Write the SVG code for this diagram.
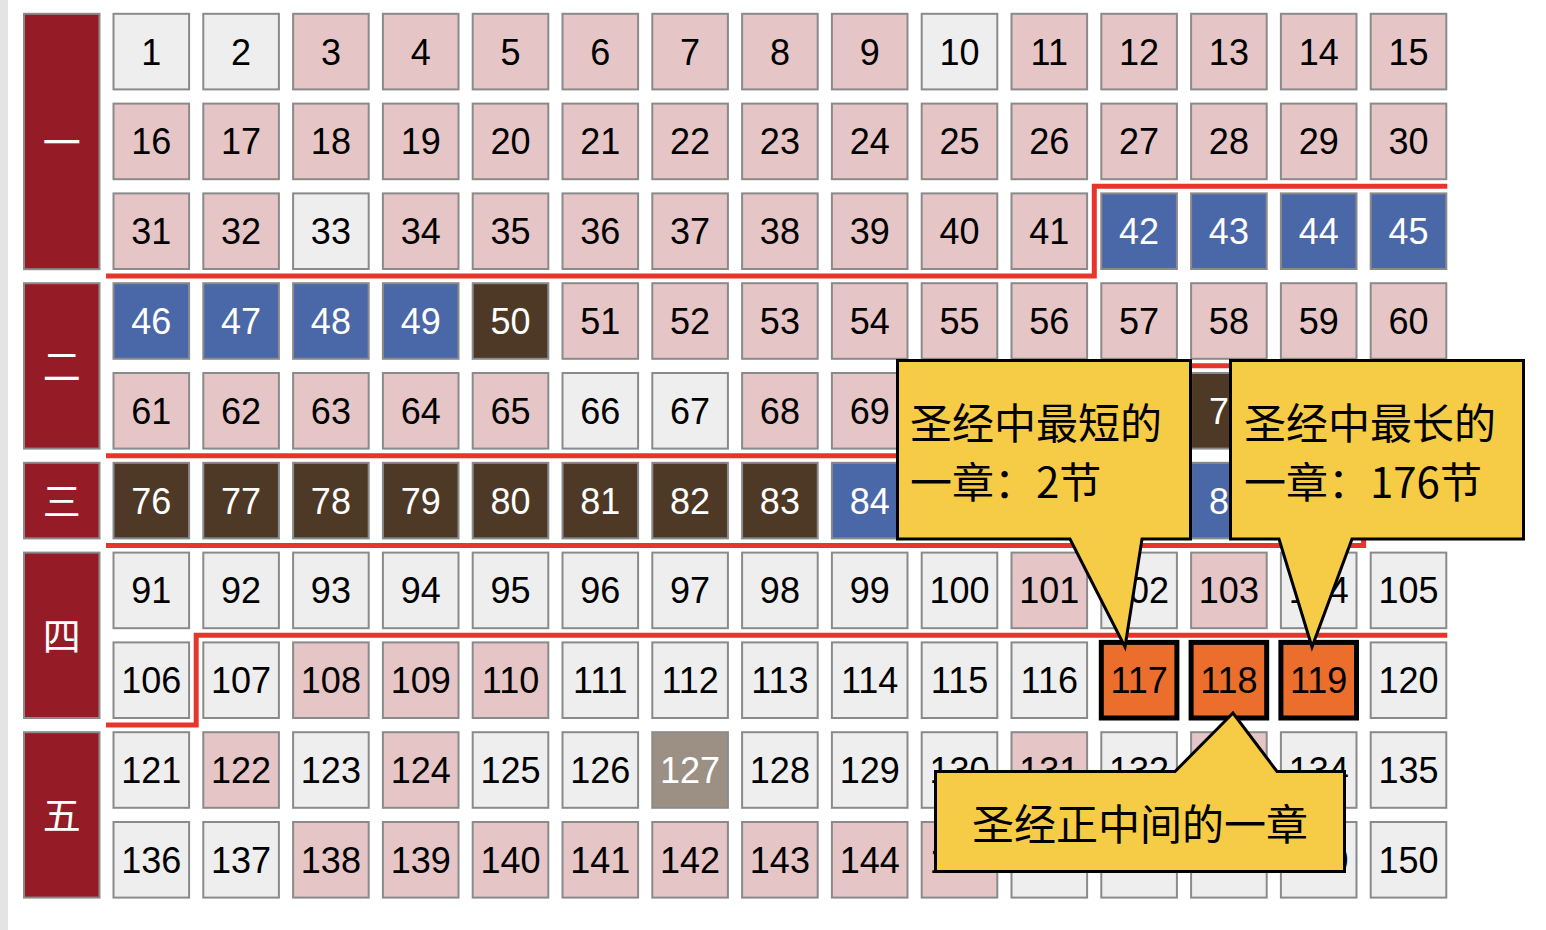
<svg xmlns="http://www.w3.org/2000/svg" width="1546" height="930" viewBox="0 0 1546 930">
<style>
.cell rect{stroke:#8a8a8a;stroke-width:2}
.cell text{font-family:"Liberation Sans",Arial,sans-serif;font-size:36px;text-anchor:middle}
.cell text.part{text-anchor:start}
.w rect{fill:#eeeeee}.p rect{fill:#e5c5c5}.b rect{fill:#4a68a7}.br rect{fill:#4d3926}.s rect{fill:#9c9085}
.o rect{fill:#ec6e2c;stroke:#000;stroke-width:5}
.w text,.p text,.o text{fill:#000}.b text,.br text,.s text{fill:#fff}
.lab rect{fill:#951c26;stroke:#8a8a8a;stroke-width:2}
.lab text{fill:#fff;font-family:"Noto Sans CJK SC","Noto Sans",sans-serif;font-size:38px;text-anchor:middle}
.sep{fill:none;stroke:#e8352b;stroke-width:5;stroke-linejoin:miter}
.call path{fill:#f6cb45;stroke:#000;stroke-width:3;stroke-linejoin:miter}
.call text{font-family:"Noto Sans CJK SC","Noto Sans",sans-serif;font-size:42px;fill:#000}
</style>
<rect x="0" y="0" width="8" height="930" fill="#e4e4e4"/>
<g id="labels">
<g id="book1" class="lab"><rect x="24" y="13.8" width="75.5" height="255.4"/><text x="61.75" y="156">一</text></g>
<g id="book2" class="lab"><rect x="24" y="283.2" width="75.5" height="165.4"/><text x="61.75" y="380.3">二</text></g>
<g id="book3" class="lab"><rect x="24" y="462.8" width="75.5" height="75.6"/><text x="61.75" y="515">三</text></g>
<g id="book4" class="lab"><rect x="24" y="552.6" width="75.5" height="165.4"/><text x="61.75" y="649.7">四</text></g>
<g id="book5" class="lab"><rect x="24" y="732.2" width="75.5" height="165.4"/><text x="61.75" y="829.3">五</text></g>
</g>
<g id="cells">
<g id="c1" class="cell w" transform="translate(112.5,12.8)"><rect x="1" y="1" width="75.6" height="75.6"/><text x="38.8" y="51.8">1</text></g>
<g id="c2" class="cell w" transform="translate(202.3,12.8)"><rect x="1" y="1" width="75.6" height="75.6"/><text x="38.8" y="51.8">2</text></g>
<g id="c3" class="cell p" transform="translate(292.1,12.8)"><rect x="1" y="1" width="75.6" height="75.6"/><text x="38.8" y="51.8">3</text></g>
<g id="c4" class="cell p" transform="translate(381.9,12.8)"><rect x="1" y="1" width="75.6" height="75.6"/><text x="38.8" y="51.8">4</text></g>
<g id="c5" class="cell p" transform="translate(471.7,12.8)"><rect x="1" y="1" width="75.6" height="75.6"/><text x="38.8" y="51.8">5</text></g>
<g id="c6" class="cell p" transform="translate(561.5,12.8)"><rect x="1" y="1" width="75.6" height="75.6"/><text x="38.8" y="51.8">6</text></g>
<g id="c7" class="cell p" transform="translate(651.3,12.8)"><rect x="1" y="1" width="75.6" height="75.6"/><text x="38.8" y="51.8">7</text></g>
<g id="c8" class="cell p" transform="translate(741.1,12.8)"><rect x="1" y="1" width="75.6" height="75.6"/><text x="38.8" y="51.8">8</text></g>
<g id="c9" class="cell p" transform="translate(830.9,12.8)"><rect x="1" y="1" width="75.6" height="75.6"/><text x="38.8" y="51.8">9</text></g>
<g id="c10" class="cell w" transform="translate(920.7,12.8)"><rect x="1" y="1" width="75.6" height="75.6"/><text x="38.8" y="51.8">10</text></g>
<g id="c11" class="cell p" transform="translate(1010.5,12.8)"><rect x="1" y="1" width="75.6" height="75.6"/><text x="38.8" y="51.8">11</text></g>
<g id="c12" class="cell p" transform="translate(1100.3,12.8)"><rect x="1" y="1" width="75.6" height="75.6"/><text x="38.8" y="51.8">12</text></g>
<g id="c13" class="cell p" transform="translate(1190.1,12.8)"><rect x="1" y="1" width="75.6" height="75.6"/><text x="38.8" y="51.8">13</text></g>
<g id="c14" class="cell p" transform="translate(1279.9,12.8)"><rect x="1" y="1" width="75.6" height="75.6"/><text x="38.8" y="51.8">14</text></g>
<g id="c15" class="cell p" transform="translate(1369.7,12.8)"><rect x="1" y="1" width="75.6" height="75.6"/><text x="38.8" y="51.8">15</text></g>
<g id="c16" class="cell p" transform="translate(112.5,102.6)"><rect x="1" y="1" width="75.6" height="75.6"/><text x="38.8" y="51.8">16</text></g>
<g id="c17" class="cell p" transform="translate(202.3,102.6)"><rect x="1" y="1" width="75.6" height="75.6"/><text x="38.8" y="51.8">17</text></g>
<g id="c18" class="cell p" transform="translate(292.1,102.6)"><rect x="1" y="1" width="75.6" height="75.6"/><text x="38.8" y="51.8">18</text></g>
<g id="c19" class="cell p" transform="translate(381.9,102.6)"><rect x="1" y="1" width="75.6" height="75.6"/><text x="38.8" y="51.8">19</text></g>
<g id="c20" class="cell p" transform="translate(471.7,102.6)"><rect x="1" y="1" width="75.6" height="75.6"/><text x="38.8" y="51.8">20</text></g>
<g id="c21" class="cell p" transform="translate(561.5,102.6)"><rect x="1" y="1" width="75.6" height="75.6"/><text x="38.8" y="51.8">21</text></g>
<g id="c22" class="cell p" transform="translate(651.3,102.6)"><rect x="1" y="1" width="75.6" height="75.6"/><text x="38.8" y="51.8">22</text></g>
<g id="c23" class="cell p" transform="translate(741.1,102.6)"><rect x="1" y="1" width="75.6" height="75.6"/><text x="38.8" y="51.8">23</text></g>
<g id="c24" class="cell p" transform="translate(830.9,102.6)"><rect x="1" y="1" width="75.6" height="75.6"/><text x="38.8" y="51.8">24</text></g>
<g id="c25" class="cell p" transform="translate(920.7,102.6)"><rect x="1" y="1" width="75.6" height="75.6"/><text x="38.8" y="51.8">25</text></g>
<g id="c26" class="cell p" transform="translate(1010.5,102.6)"><rect x="1" y="1" width="75.6" height="75.6"/><text x="38.8" y="51.8">26</text></g>
<g id="c27" class="cell p" transform="translate(1100.3,102.6)"><rect x="1" y="1" width="75.6" height="75.6"/><text x="38.8" y="51.8">27</text></g>
<g id="c28" class="cell p" transform="translate(1190.1,102.6)"><rect x="1" y="1" width="75.6" height="75.6"/><text x="38.8" y="51.8">28</text></g>
<g id="c29" class="cell p" transform="translate(1279.9,102.6)"><rect x="1" y="1" width="75.6" height="75.6"/><text x="38.8" y="51.8">29</text></g>
<g id="c30" class="cell p" transform="translate(1369.7,102.6)"><rect x="1" y="1" width="75.6" height="75.6"/><text x="38.8" y="51.8">30</text></g>
<g id="c31" class="cell p" transform="translate(112.5,192.4)"><rect x="1" y="1" width="75.6" height="75.6"/><text x="38.8" y="51.8">31</text></g>
<g id="c32" class="cell p" transform="translate(202.3,192.4)"><rect x="1" y="1" width="75.6" height="75.6"/><text x="38.8" y="51.8">32</text></g>
<g id="c33" class="cell w" transform="translate(292.1,192.4)"><rect x="1" y="1" width="75.6" height="75.6"/><text x="38.8" y="51.8">33</text></g>
<g id="c34" class="cell p" transform="translate(381.9,192.4)"><rect x="1" y="1" width="75.6" height="75.6"/><text x="38.8" y="51.8">34</text></g>
<g id="c35" class="cell p" transform="translate(471.7,192.4)"><rect x="1" y="1" width="75.6" height="75.6"/><text x="38.8" y="51.8">35</text></g>
<g id="c36" class="cell p" transform="translate(561.5,192.4)"><rect x="1" y="1" width="75.6" height="75.6"/><text x="38.8" y="51.8">36</text></g>
<g id="c37" class="cell p" transform="translate(651.3,192.4)"><rect x="1" y="1" width="75.6" height="75.6"/><text x="38.8" y="51.8">37</text></g>
<g id="c38" class="cell p" transform="translate(741.1,192.4)"><rect x="1" y="1" width="75.6" height="75.6"/><text x="38.8" y="51.8">38</text></g>
<g id="c39" class="cell p" transform="translate(830.9,192.4)"><rect x="1" y="1" width="75.6" height="75.6"/><text x="38.8" y="51.8">39</text></g>
<g id="c40" class="cell p" transform="translate(920.7,192.4)"><rect x="1" y="1" width="75.6" height="75.6"/><text x="38.8" y="51.8">40</text></g>
<g id="c41" class="cell p" transform="translate(1010.5,192.4)"><rect x="1" y="1" width="75.6" height="75.6"/><text x="38.8" y="51.8">41</text></g>
<g id="c42" class="cell b" transform="translate(1100.3,192.4)"><rect x="1" y="1" width="75.6" height="75.6"/><text x="38.8" y="51.8">42</text></g>
<g id="c43" class="cell b" transform="translate(1190.1,192.4)"><rect x="1" y="1" width="75.6" height="75.6"/><text x="38.8" y="51.8">43</text></g>
<g id="c44" class="cell b" transform="translate(1279.9,192.4)"><rect x="1" y="1" width="75.6" height="75.6"/><text x="38.8" y="51.8">44</text></g>
<g id="c45" class="cell b" transform="translate(1369.7,192.4)"><rect x="1" y="1" width="75.6" height="75.6"/><text x="38.8" y="51.8">45</text></g>
<g id="c46" class="cell b" transform="translate(112.5,282.2)"><rect x="1" y="1" width="75.6" height="75.6"/><text x="38.8" y="51.8">46</text></g>
<g id="c47" class="cell b" transform="translate(202.3,282.2)"><rect x="1" y="1" width="75.6" height="75.6"/><text x="38.8" y="51.8">47</text></g>
<g id="c48" class="cell b" transform="translate(292.1,282.2)"><rect x="1" y="1" width="75.6" height="75.6"/><text x="38.8" y="51.8">48</text></g>
<g id="c49" class="cell b" transform="translate(381.9,282.2)"><rect x="1" y="1" width="75.6" height="75.6"/><text x="38.8" y="51.8">49</text></g>
<g id="c50" class="cell br" transform="translate(471.7,282.2)"><rect x="1" y="1" width="75.6" height="75.6"/><text x="38.8" y="51.8">50</text></g>
<g id="c51" class="cell p" transform="translate(561.5,282.2)"><rect x="1" y="1" width="75.6" height="75.6"/><text x="38.8" y="51.8">51</text></g>
<g id="c52" class="cell p" transform="translate(651.3,282.2)"><rect x="1" y="1" width="75.6" height="75.6"/><text x="38.8" y="51.8">52</text></g>
<g id="c53" class="cell p" transform="translate(741.1,282.2)"><rect x="1" y="1" width="75.6" height="75.6"/><text x="38.8" y="51.8">53</text></g>
<g id="c54" class="cell p" transform="translate(830.9,282.2)"><rect x="1" y="1" width="75.6" height="75.6"/><text x="38.8" y="51.8">54</text></g>
<g id="c55" class="cell p" transform="translate(920.7,282.2)"><rect x="1" y="1" width="75.6" height="75.6"/><text x="38.8" y="51.8">55</text></g>
<g id="c56" class="cell p" transform="translate(1010.5,282.2)"><rect x="1" y="1" width="75.6" height="75.6"/><text x="38.8" y="51.8">56</text></g>
<g id="c57" class="cell p" transform="translate(1100.3,282.2)"><rect x="1" y="1" width="75.6" height="75.6"/><text x="38.8" y="51.8">57</text></g>
<g id="c58" class="cell p" transform="translate(1190.1,282.2)"><rect x="1" y="1" width="75.6" height="75.6"/><text x="38.8" y="51.8">58</text></g>
<g id="c59" class="cell p" transform="translate(1279.9,282.2)"><rect x="1" y="1" width="75.6" height="75.6"/><text x="38.8" y="51.8">59</text></g>
<g id="c60" class="cell p" transform="translate(1369.7,282.2)"><rect x="1" y="1" width="75.6" height="75.6"/><text x="38.8" y="51.8">60</text></g>
<g id="c61" class="cell p" transform="translate(112.5,372)"><rect x="1" y="1" width="75.6" height="75.6"/><text x="38.8" y="51.8">61</text></g>
<g id="c62" class="cell p" transform="translate(202.3,372)"><rect x="1" y="1" width="75.6" height="75.6"/><text x="38.8" y="51.8">62</text></g>
<g id="c63" class="cell p" transform="translate(292.1,372)"><rect x="1" y="1" width="75.6" height="75.6"/><text x="38.8" y="51.8">63</text></g>
<g id="c64" class="cell p" transform="translate(381.9,372)"><rect x="1" y="1" width="75.6" height="75.6"/><text x="38.8" y="51.8">64</text></g>
<g id="c65" class="cell p" transform="translate(471.7,372)"><rect x="1" y="1" width="75.6" height="75.6"/><text x="38.8" y="51.8">65</text></g>
<g id="c66" class="cell w" transform="translate(561.5,372)"><rect x="1" y="1" width="75.6" height="75.6"/><text x="38.8" y="51.8">66</text></g>
<g id="c67" class="cell w" transform="translate(651.3,372)"><rect x="1" y="1" width="75.6" height="75.6"/><text x="38.8" y="51.8">67</text></g>
<g id="c68" class="cell p" transform="translate(741.1,372)"><rect x="1" y="1" width="75.6" height="75.6"/><text x="38.8" y="51.8">68</text></g>
<g id="c69" class="cell p" transform="translate(830.9,372)"><rect x="1" y="1" width="75.6" height="75.6"/><text x="38.8" y="51.8">69</text></g>
<g id="c73" class="cell br" transform="translate(1190.1,372)"><rect x="1" y="1" width="75.6" height="75.6"/><text class="part" x="18.8" y="51.8">7</text></g>
<g id="c76" class="cell br" transform="translate(112.5,461.8)"><rect x="1" y="1" width="75.6" height="75.6"/><text x="38.8" y="51.8">76</text></g>
<g id="c77" class="cell br" transform="translate(202.3,461.8)"><rect x="1" y="1" width="75.6" height="75.6"/><text x="38.8" y="51.8">77</text></g>
<g id="c78" class="cell br" transform="translate(292.1,461.8)"><rect x="1" y="1" width="75.6" height="75.6"/><text x="38.8" y="51.8">78</text></g>
<g id="c79" class="cell br" transform="translate(381.9,461.8)"><rect x="1" y="1" width="75.6" height="75.6"/><text x="38.8" y="51.8">79</text></g>
<g id="c80" class="cell br" transform="translate(471.7,461.8)"><rect x="1" y="1" width="75.6" height="75.6"/><text x="38.8" y="51.8">80</text></g>
<g id="c81" class="cell br" transform="translate(561.5,461.8)"><rect x="1" y="1" width="75.6" height="75.6"/><text x="38.8" y="51.8">81</text></g>
<g id="c82" class="cell br" transform="translate(651.3,461.8)"><rect x="1" y="1" width="75.6" height="75.6"/><text x="38.8" y="51.8">82</text></g>
<g id="c83" class="cell br" transform="translate(741.1,461.8)"><rect x="1" y="1" width="75.6" height="75.6"/><text x="38.8" y="51.8">83</text></g>
<g id="c84" class="cell b" transform="translate(830.9,461.8)"><rect x="1" y="1" width="75.6" height="75.6"/><text x="38.8" y="51.8">84</text></g>
<g id="c88" class="cell b" transform="translate(1190.1,461.8)"><rect x="1" y="1" width="75.6" height="75.6"/><text class="part" x="18.8" y="51.8">8</text></g>
<g id="c91" class="cell w" transform="translate(112.5,551.6)"><rect x="1" y="1" width="75.6" height="75.6"/><text x="38.8" y="51.8">91</text></g>
<g id="c92" class="cell w" transform="translate(202.3,551.6)"><rect x="1" y="1" width="75.6" height="75.6"/><text x="38.8" y="51.8">92</text></g>
<g id="c93" class="cell w" transform="translate(292.1,551.6)"><rect x="1" y="1" width="75.6" height="75.6"/><text x="38.8" y="51.8">93</text></g>
<g id="c94" class="cell w" transform="translate(381.9,551.6)"><rect x="1" y="1" width="75.6" height="75.6"/><text x="38.8" y="51.8">94</text></g>
<g id="c95" class="cell w" transform="translate(471.7,551.6)"><rect x="1" y="1" width="75.6" height="75.6"/><text x="38.8" y="51.8">95</text></g>
<g id="c96" class="cell w" transform="translate(561.5,551.6)"><rect x="1" y="1" width="75.6" height="75.6"/><text x="38.8" y="51.8">96</text></g>
<g id="c97" class="cell w" transform="translate(651.3,551.6)"><rect x="1" y="1" width="75.6" height="75.6"/><text x="38.8" y="51.8">97</text></g>
<g id="c98" class="cell w" transform="translate(741.1,551.6)"><rect x="1" y="1" width="75.6" height="75.6"/><text x="38.8" y="51.8">98</text></g>
<g id="c99" class="cell w" transform="translate(830.9,551.6)"><rect x="1" y="1" width="75.6" height="75.6"/><text x="38.8" y="51.8">99</text></g>
<g id="c100" class="cell w" transform="translate(920.7,551.6)"><rect x="1" y="1" width="75.6" height="75.6"/><text x="38.8" y="51.8">100</text></g>
<g id="c101" class="cell p" transform="translate(1010.5,551.6)"><rect x="1" y="1" width="75.6" height="75.6"/><text x="38.8" y="51.8">101</text></g>
<g id="c102" class="cell w" transform="translate(1100.3,551.6)"><rect x="1" y="1" width="75.6" height="75.6"/><text x="38.8" y="51.8">102</text></g>
<g id="c103" class="cell p" transform="translate(1190.1,551.6)"><rect x="1" y="1" width="75.6" height="75.6"/><text x="38.8" y="51.8">103</text></g>
<g id="c104" class="cell w" transform="translate(1279.9,551.6)"><rect x="1" y="1" width="75.6" height="75.6"/><text x="38.8" y="51.8">104</text></g>
<g id="c105" class="cell w" transform="translate(1369.7,551.6)"><rect x="1" y="1" width="75.6" height="75.6"/><text x="38.8" y="51.8">105</text></g>
<g id="c106" class="cell w" transform="translate(112.5,641.4)"><rect x="1" y="1" width="75.6" height="75.6"/><text x="38.8" y="51.8">106</text></g>
<g id="c107" class="cell w" transform="translate(202.3,641.4)"><rect x="1" y="1" width="75.6" height="75.6"/><text x="38.8" y="51.8">107</text></g>
<g id="c108" class="cell p" transform="translate(292.1,641.4)"><rect x="1" y="1" width="75.6" height="75.6"/><text x="38.8" y="51.8">108</text></g>
<g id="c109" class="cell p" transform="translate(381.9,641.4)"><rect x="1" y="1" width="75.6" height="75.6"/><text x="38.8" y="51.8">109</text></g>
<g id="c110" class="cell p" transform="translate(471.7,641.4)"><rect x="1" y="1" width="75.6" height="75.6"/><text x="38.8" y="51.8">110</text></g>
<g id="c111" class="cell w" transform="translate(561.5,641.4)"><rect x="1" y="1" width="75.6" height="75.6"/><text x="38.8" y="51.8">111</text></g>
<g id="c112" class="cell w" transform="translate(651.3,641.4)"><rect x="1" y="1" width="75.6" height="75.6"/><text x="38.8" y="51.8">112</text></g>
<g id="c113" class="cell w" transform="translate(741.1,641.4)"><rect x="1" y="1" width="75.6" height="75.6"/><text x="38.8" y="51.8">113</text></g>
<g id="c114" class="cell w" transform="translate(830.9,641.4)"><rect x="1" y="1" width="75.6" height="75.6"/><text x="38.8" y="51.8">114</text></g>
<g id="c115" class="cell w" transform="translate(920.7,641.4)"><rect x="1" y="1" width="75.6" height="75.6"/><text x="38.8" y="51.8">115</text></g>
<g id="c116" class="cell w" transform="translate(1010.5,641.4)"><rect x="1" y="1" width="75.6" height="75.6"/><text x="38.8" y="51.8">116</text></g>
<g id="c117" class="cell o" transform="translate(1100.3,641.4)"><rect x="1" y="1" width="75.6" height="75.6"/><text x="38.8" y="51.8">117</text></g>
<g id="c118" class="cell o" transform="translate(1190.1,641.4)"><rect x="1" y="1" width="75.6" height="75.6"/><text x="38.8" y="51.8">118</text></g>
<g id="c119" class="cell o" transform="translate(1279.9,641.4)"><rect x="1" y="1" width="75.6" height="75.6"/><text x="38.8" y="51.8">119</text></g>
<g id="c120" class="cell w" transform="translate(1369.7,641.4)"><rect x="1" y="1" width="75.6" height="75.6"/><text x="38.8" y="51.8">120</text></g>
<g id="c121" class="cell w" transform="translate(112.5,731.2)"><rect x="1" y="1" width="75.6" height="75.6"/><text x="38.8" y="51.8">121</text></g>
<g id="c122" class="cell p" transform="translate(202.3,731.2)"><rect x="1" y="1" width="75.6" height="75.6"/><text x="38.8" y="51.8">122</text></g>
<g id="c123" class="cell w" transform="translate(292.1,731.2)"><rect x="1" y="1" width="75.6" height="75.6"/><text x="38.8" y="51.8">123</text></g>
<g id="c124" class="cell p" transform="translate(381.9,731.2)"><rect x="1" y="1" width="75.6" height="75.6"/><text x="38.8" y="51.8">124</text></g>
<g id="c125" class="cell w" transform="translate(471.7,731.2)"><rect x="1" y="1" width="75.6" height="75.6"/><text x="38.8" y="51.8">125</text></g>
<g id="c126" class="cell w" transform="translate(561.5,731.2)"><rect x="1" y="1" width="75.6" height="75.6"/><text x="38.8" y="51.8">126</text></g>
<g id="c127" class="cell s" transform="translate(651.3,731.2)"><rect x="1" y="1" width="75.6" height="75.6"/><text x="38.8" y="51.8">127</text></g>
<g id="c128" class="cell w" transform="translate(741.1,731.2)"><rect x="1" y="1" width="75.6" height="75.6"/><text x="38.8" y="51.8">128</text></g>
<g id="c129" class="cell w" transform="translate(830.9,731.2)"><rect x="1" y="1" width="75.6" height="75.6"/><text x="38.8" y="51.8">129</text></g>
<g id="c130" class="cell w" transform="translate(920.7,731.2)"><rect x="1" y="1" width="75.6" height="75.6"/><text x="38.8" y="51.8">130</text></g>
<g id="c131" class="cell p" transform="translate(1010.5,731.2)"><rect x="1" y="1" width="75.6" height="75.6"/><text x="38.8" y="51.8">131</text></g>
<g id="c132" class="cell w" transform="translate(1100.3,731.2)"><rect x="1" y="1" width="75.6" height="75.6"/><text x="38.8" y="51.8">132</text></g>
<g id="c133" class="cell p" transform="translate(1190.1,731.2)"><rect x="1" y="1" width="75.6" height="75.6"/><text x="38.8" y="51.8">133</text></g>
<g id="c134" class="cell w" transform="translate(1279.9,731.2)"><rect x="1" y="1" width="75.6" height="75.6"/><text x="38.8" y="51.8">134</text></g>
<g id="c135" class="cell w" transform="translate(1369.7,731.2)"><rect x="1" y="1" width="75.6" height="75.6"/><text x="38.8" y="51.8">135</text></g>
<g id="c136" class="cell w" transform="translate(112.5,821)"><rect x="1" y="1" width="75.6" height="75.6"/><text x="38.8" y="51.8">136</text></g>
<g id="c137" class="cell w" transform="translate(202.3,821)"><rect x="1" y="1" width="75.6" height="75.6"/><text x="38.8" y="51.8">137</text></g>
<g id="c138" class="cell p" transform="translate(292.1,821)"><rect x="1" y="1" width="75.6" height="75.6"/><text x="38.8" y="51.8">138</text></g>
<g id="c139" class="cell p" transform="translate(381.9,821)"><rect x="1" y="1" width="75.6" height="75.6"/><text x="38.8" y="51.8">139</text></g>
<g id="c140" class="cell p" transform="translate(471.7,821)"><rect x="1" y="1" width="75.6" height="75.6"/><text x="38.8" y="51.8">140</text></g>
<g id="c141" class="cell p" transform="translate(561.5,821)"><rect x="1" y="1" width="75.6" height="75.6"/><text x="38.8" y="51.8">141</text></g>
<g id="c142" class="cell p" transform="translate(651.3,821)"><rect x="1" y="1" width="75.6" height="75.6"/><text x="38.8" y="51.8">142</text></g>
<g id="c143" class="cell p" transform="translate(741.1,821)"><rect x="1" y="1" width="75.6" height="75.6"/><text x="38.8" y="51.8">143</text></g>
<g id="c144" class="cell p" transform="translate(830.9,821)"><rect x="1" y="1" width="75.6" height="75.6"/><text x="38.8" y="51.8">144</text></g>
<g id="c145" class="cell p" transform="translate(920.7,821)"><rect x="1" y="1" width="75.6" height="75.6"/><text x="38.8" y="51.8">145</text></g>
<g id="c146" class="cell w" transform="translate(1010.5,821)"><rect x="1" y="1" width="75.6" height="75.6"/></g>
<g id="c147" class="cell w" transform="translate(1100.3,821)"><rect x="1" y="1" width="75.6" height="75.6"/></g>
<g id="c148" class="cell w" transform="translate(1190.1,821)"><rect x="1" y="1" width="75.6" height="75.6"/></g>
<g id="c149" class="cell w" transform="translate(1279.9,821)"><rect x="1" y="1" width="75.6" height="75.6"/><text x="38.8" y="51.8">149</text></g>
<g id="c150" class="cell w" transform="translate(1369.7,821)"><rect x="1" y="1" width="75.6" height="75.6"/><text x="38.8" y="51.8">150</text></g>
</g>
<g id="separators">
<path class="sep" d="M106,276.1 H1094.3 V186.3 H1447.3"/>
<path class="sep" d="M106,455.7 H1184 V365.8 H1447.3"/>
<path class="sep" d="M106,545.5 H1363.6 V455.7 H1447.3"/>
<path class="sep" d="M106,725.1 H196.2 V635.3 H1447.3"/>
</g>
<g id="callout-shortest" class="call">
<path d="M897.5,360.5 H1190.5 V539 H1142 L1125,647 L1070,539 H897.5 Z"/>
<text x="910" y="439">圣经中最短的</text>
<text x="910" y="498">一章：2节</text>
</g>
<g id="callout-longest" class="call">
<path d="M1230.5,360.5 H1523.5 V539 H1352 L1312,647 L1279,539 H1230.5 Z"/>
<text x="1244" y="439">圣经中最长的</text>
<text x="1244" y="498">一章：176节</text>
</g>
<g id="callout-middle" class="call">
<path d="M935.5,771.5 H1175 L1233,713 L1277,771.5 H1344.5 V871.5 H935.5 Z"/>
<text x="1140" y="840" text-anchor="middle">圣经正中间的一章</text>
</g>
</svg>
